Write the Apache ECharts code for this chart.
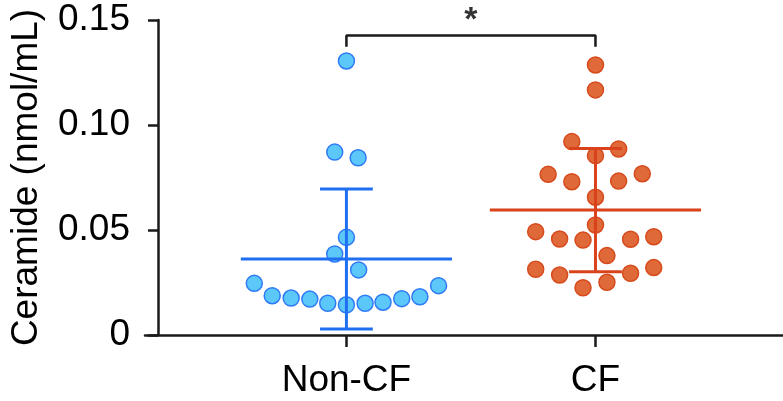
<!DOCTYPE html>
<html>
<head>
<meta charset="utf-8">
<script src="https://cdn.jsdelivr.net/npm/echarts@6/dist/echarts.min.js"></script>
<style>
html,body{margin:0;padding:0;background:#fff;}
#chart{width:783px;height:401px;}
</style>
</head>
<body>
<div id="chart"></div>
<script>
// ---- data ----
const categories = ['Non-CF', 'CF'];
const yTicks = [0, 0.05, 0.10, 0.15];
const nonCF = [0.1305, 0.0871, 0.0844, 0.0465, 0.0386, 0.0310, 0.0246, 0.0187, 0.0176, 0.0171, 0.0151, 0.0144, 0.0151, 0.0156, 0.0173, 0.0182, 0.0235];
const nonCFJitter = [0, -0.047, 0.047, 0, -0.047, 0.049, -0.37, -0.298, -0.222, -0.147, -0.075, 0, 0.075, 0.147, 0.222, 0.295, 0.37];
const cf = [0.1286, 0.1167, 0.0921, 0.0886, 0.0854, 0.0765, 0.0768, 0.0730, 0.0733, 0.0656, 0.0524, 0.0492, 0.0457, 0.0452, 0.0456, 0.0468, 0.0378, 0.0313, 0.0286, 0.0294, 0.0321, 0.0225, 0.0251];
const cfJitter = [0, 0, -0.095, 0.093, 0, -0.19, 0.188, -0.095, 0.093, 0, 0, -0.24, -0.144, -0.05, 0.141, 0.234, 0.046, -0.24, -0.144, 0.141, 0.234, -0.05, 0.046];
const sigLabel = '*';
const bracketY = 0.1426;
const bracketDrop = 0.0053;

// ---- helpers ----
function mean(a){return a.reduce((s,v)=>s+v,0)/a.length;}
function sd(a){const m=mean(a);return Math.sqrt(a.reduce((s,v)=>s+(v-m)*(v-m),0)/(a.length-1));}

const FONT = '"Liberation Sans", Arial, Helvetica, sans-serif';
const blueFill = '#5CC8FA', blueEdge = '#2F7BF5', blueLine = '#1F6FF2';
const orgFill = '#E0693A', orgEdge = '#D64A1C', orgLine = '#D9421A';
const lineColors = [blueLine, orgLine];

const stats = [nonCF, cf].map((arr, i) => [i + 1, mean(arr), sd(arr)]);

const chart = echarts.init(document.getElementById('chart'), null, {renderer: 'canvas'});
chart.setOption({
  animation: false,
  backgroundColor: '#fff',
  grid: {left: 140, right: 0, top: 20, bottom: 66, containLabel: false},
  xAxis: {
    type: 'value',
    min: 0.1912, max: 2.753,
    axisLine: {show: true, lineStyle: {color: '#1a1a1a', width: 2.5}},
    axisTick: {show: true, customValues: [1, 2], length: 12, lineStyle: {color: '#1a1a1a', width: 2.5}},
    axisLabel: {show: true, customValues: [1, 2], formatter: v => categories[Math.round(v) - 1] || '',
      fontSize: 37, color: '#000', fontFamily: FONT, margin: 27},
    splitLine: {show: false}
  },
  yAxis: {
    type: 'value',
    min: 0, max: 0.15, interval: 0.05,
    offset: -13,
    axisLine: {show: true, lineStyle: {color: '#1a1a1a', width: 2.5}},
    axisTick: {show: true, length: 10, lineStyle: {color: '#1a1a1a', width: 2.5}},
    axisLabel: {fontSize: 37, color: '#000', fontFamily: FONT, margin: 28,
      formatter: v => { const t = yTicks.find(x => Math.abs(x - v) < 1e-9); return t === 0 ? '0' : t.toFixed(2); }},
    splitLine: {show: false},
    name: 'Ceramide (nmol/mL)',
    nameLocation: 'middle',
    nameGap: 113,
    nameTextStyle: {fontSize: 37, color: '#000', fontFamily: FONT}
  },
  series: [
    {
      type: 'scatter', name: categories[0],
      data: nonCF.map((v, i) => [1 + nonCFJitter[i], v]),
      symbolSize: 16,
      itemStyle: {color: blueFill, borderColor: blueEdge, borderWidth: 1.5, opacity: 1},
      z: 2
    },
    {
      type: 'scatter', name: categories[1],
      data: cf.map((v, i) => [2 + cfJitter[i], v]),
      symbolSize: 16,
      itemStyle: {color: orgFill, borderColor: orgEdge, borderWidth: 1.5, opacity: 1},
      z: 2
    },
    {
      type: 'custom',
      data: stats,
      clip: false,
      z: 3,
      renderItem: function (params, api) {
        const x = api.value(0), m = api.value(1), s = api.value(2);
        const col = lineColors[params.dataIndex];
        const w = 0.424, c = 0.106;
        const L = (a, b) => ({type: 'line', shape: {x1: a[0], y1: a[1], x2: b[0], y2: b[1]},
          style: {stroke: col, lineWidth: 3}});
        return {type: 'group', children: [
          L(api.coord([x - w, m]), api.coord([x + w, m])),
          L(api.coord([x, m - s]), api.coord([x, m + s])),
          L(api.coord([x - c, m + s]), api.coord([x + c, m + s])),
          L(api.coord([x - c, m - s]), api.coord([x + c, m - s]))
        ]};
      }
    },
    {
      type: 'line',
      data: [[1, bracketY - bracketDrop], [1, bracketY], [2, bracketY], [2, bracketY - bracketDrop]],
      symbol: 'none',
      lineStyle: {color: '#1a1a1a', width: 2.5},
      clip: false,
      z: 4
    },
    {
      type: 'scatter',
      data: [[1.5, bracketY]],
      symbolSize: 0,
      clip: false,
      label: {show: true, position: 'top', distance: -2, formatter: sigLabel, fontSize: 34, fontWeight: 'bold', color: '#000', fontFamily: FONT},
      z: 4
    }
  ]
});
</script>
</body>
</html>
